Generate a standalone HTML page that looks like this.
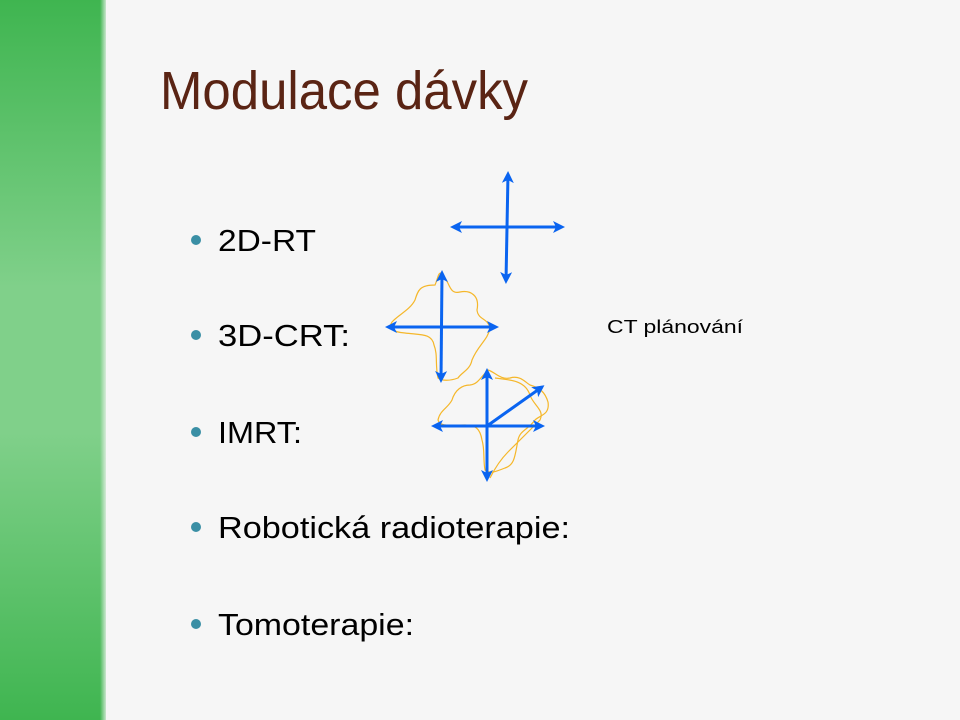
<!DOCTYPE html>
<html><head><meta charset="utf-8"><style>
html,body{margin:0;padding:0;width:960px;height:720px;overflow:hidden;background:#f6f6f6}
</style></head><body>
<svg width="960" height="720" viewBox="0 0 960 720" xmlns="http://www.w3.org/2000/svg">
<defs>
<linearGradient id="g" x1="0" y1="0" x2="0" y2="1">
<stop offset="0" stop-color="#3fb550"/>
<stop offset="0.4" stop-color="#80d08a"/>
<stop offset="0.6" stop-color="#80d08a"/>
<stop offset="1" stop-color="#3fb550"/>
</linearGradient>
<linearGradient id="e" x1="0" y1="0" x2="1" y2="0">
<stop offset="0" stop-color="#f6f6f6" stop-opacity="0"/>
<stop offset="1" stop-color="#f6f6f6" stop-opacity="1"/>
</linearGradient>
<marker id="a" markerWidth="14" markerHeight="14" refX="9" refY="6" orient="auto-start-reverse" markerUnits="userSpaceOnUse">
<path d="M0,0 L12,6 L0,12 L3,6 Z" fill="#0a64f0"/>
</marker>
</defs>
<rect x="0" y="0" width="106" height="720" fill="url(#g)"/>
<rect x="100" y="0" width="8" height="720" fill="url(#e)"/>
<text x="160" y="109" font-family="Liberation Sans, sans-serif" font-size="54" fill="#5a2414" textLength="368" lengthAdjust="spacingAndGlyphs">Modulace dávky</text>
<g font-family="Liberation Sans, sans-serif" font-size="31" fill="#000">
<circle cx="196" cy="240" r="5" fill="#3a8fa5"/><text x="218" y="251" textLength="98" lengthAdjust="spacingAndGlyphs">2D-RT</text>
<circle cx="196" cy="335" r="5" fill="#3a8fa5"/><text x="218" y="346" textLength="132" lengthAdjust="spacingAndGlyphs">3D-CRT:</text>
<circle cx="196" cy="432" r="5" fill="#3a8fa5"/><text x="218" y="443" textLength="84" lengthAdjust="spacingAndGlyphs">IMRT:</text>
<circle cx="196" cy="527" r="5" fill="#3a8fa5"/><text x="218" y="538" textLength="352" lengthAdjust="spacingAndGlyphs">Robotická radioterapie:</text>
<circle cx="196" cy="624" r="5" fill="#3a8fa5"/><text x="218" y="635" textLength="196" lengthAdjust="spacingAndGlyphs">Tomoterapie:</text>
</g>
<text x="607" y="333" font-family="Liberation Sans, sans-serif" font-size="18" fill="#000" textLength="136" lengthAdjust="spacingAndGlyphs">CT plánování</text>
<g fill="none" stroke="#f5b72a" stroke-width="1.2">
<path d="M441,273 C450,280 448,295 460,292 C470,290 480,295 477,310 C478,320 488,318 490,328 C488,340 478,345 472,360 C470,370 462,372 458,378 C450,381 442,381 438,378 C435,365 438,355 434,345 C432,333 420,335 405,333 C392,332 388,328 392,322 C398,315 410,310 415,300 C418,290 420,285 435,285 C438,278 438,273 441,273 Z"/>
<path d="M488,370 C495,372 500,380 510,378 C520,375 525,382 530,385 C540,388 545,392 548,402 C550,415 540,415 535,420 C528,430 520,430 518,440 C515,455 515,465 505,468 C495,472 490,474 485,470 C483,460 485,450 482,440 C480,428 475,425 465,425 C450,425 440,427 438,420 C440,410 448,408 452,400 C455,390 462,385 470,385 C478,384 480,378 488,370 Z"/>
<path d="M495,378 C510,380 525,380 530,395 C533,405 545,410 540,420 C530,430 520,440 508,452 C500,460 495,468 490,478"/>
</g>
<g stroke="#0a64f0" stroke-width="3" marker-start="url(#a)" marker-end="url(#a)">
<line x1="508" y1="174" x2="506" y2="281"/>
<line x1="453" y1="227" x2="562" y2="227"/>
<line x1="442" y1="273" x2="441" y2="380"/>
<line x1="388" y1="327" x2="496" y2="327"/>
<line x1="487" y1="371" x2="487" y2="479"/>
<line x1="434" y1="426" x2="542" y2="426"/>
<line x1="487" y1="426" x2="542" y2="387" marker-start="none"/>
</g>
</svg>
</body></html>
